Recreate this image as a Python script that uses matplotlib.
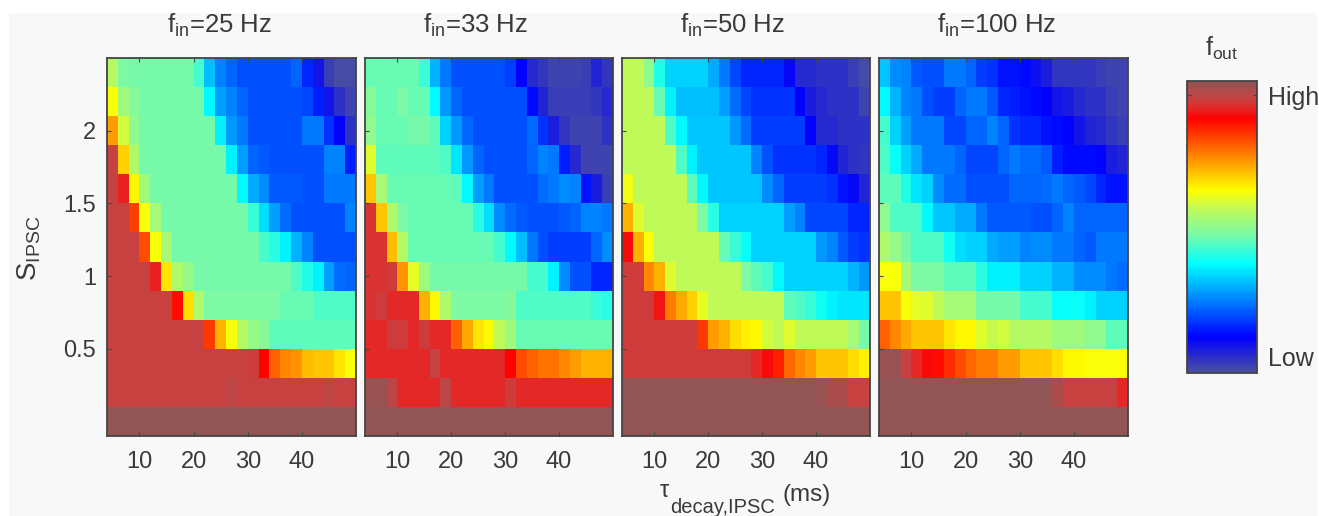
import numpy as np
import matplotlib
matplotlib.use("Agg")
import matplotlib.pyplot as plt
from matplotlib.colors import LinearSegmentedColormap
from matplotlib.cm import ScalarMappable
from matplotlib.patches import Rectangle

plt.rcParams['font.family'] = ['Liberation Sans', 'DejaVu Sans']
plt.rcParams['mathtext.fontset'] = 'custom'
plt.rcParams['mathtext.rm'] = 'Liberation Sans'
plt.rcParams['mathtext.it'] = 'Liberation Sans'
plt.rcParams['mathtext.bf'] = 'Liberation Sans'

tau_edges = list(range(4, 52, 2))
s_edges = [-0.1 + 0.2 * i for i in range(14)]
panel_titles = ['f$_{\\mathrm{in}}$=25 Hz', 'f$_{\\mathrm{in}}$=33 Hz', 'f$_{\\mathrm{in}}$=50 Hz', 'f$_{\\mathrm{in}}$=100 Hz']
xtick_vals = [10, 20, 30, 40]
ytick_vals = [0.5, 1, 1.5, 2]
ytick_labels = ['0.5', '1', '1.5', '2']

# each row lists 23 values, top row (largest S) first, in percent of the colour range
panel_25 = [
 [55,48,47,47,47,47,47,47,43,31,25,22,20,20,20,20,20,22,16,9,3,1,1],
 [62,52,49,47,47,47,47,47,47,37,28,25,22,20,20,20,20,20,19,15,9,5,2],
 [72,58,50,47,47,47,47,47,47,47,36,27,24,20,20,20,20,20,24,24,17,12,5],
 [94,67,54,47,47,47,47,47,47,47,47,36,28,22,21,20,20,20,20,20,25,25,15],
 [94,90,63,52,47,47,47,47,47,47,47,47,37,29,26,21,21,21,20,20,24,24,24],
 [94,94,81,62,53,47,47,47,47,47,47,47,47,42,34,28,23,20,20,20,20,20,25],
 [94,94,94,80,62,53,47,47,47,47,47,47,47,47,43,41,36,30,25,20,20,20,20],
 [94,94,94,94,90,65,54,51,47,47,47,47,47,47,47,47,47,44,40,36,28,23,22],
 [94,94,94,94,94,94,86,66,54,48,48,48,48,48,48,48,46,46,46,44,44,44,44],
 [94,94,94,94,94,94,94,94,94,82,70,62,55,51,49,45,45,45,45,45,45,45,45],
 [94,94,94,94,94,94,94,94,94,94,94,94,94,93,87,78,74,73,69,68,68,65,62],
 [94,94,94,94,94,94,94,94,94,94,94,95,94,94,94,94,94,94,94,94,95,94,94],
 [100]*23,
]
panel_33 = [
 [46,46,46,46,46,42,30,24,20,20,20,20,20,18,12,6,4,2,2,2,3,7,4],
 [49,46,46,48,46,46,37,27,22,20,20,20,20,20,20,13,7,3,3,3,3,4,6],
 [50,46,46,46,47,47,45,33,27,22,20,20,20,20,20,23,17,8,4,2,2,2,5],
 [59,45,45,45,45,45,45,44,35,27,22,20,20,20,20,22,25,24,15,6,2,2,2],
 [68,53,46,46,46,46,46,46,45,37,28,24,20,20,20,20,23,24,26,25,14,8,3],
 [92,68,54,48,46,46,46,46,46,46,41,34,26,23,21,20,20,20,21,22,25,25,24],
 [92,92,69,55,46,46,46,46,46,46,46,46,43,37,31,24,20,18,18,18,18,22,26],
 [92,92,93,73,60,52,47,47,47,47,47,47,47,47,47,43,43,36,26,20,20,16,16],
 [92,93,91,91,91,70,63,54,48,48,48,48,48,49,44,44,44,44,44,44,44,42,41],
 [91,91,93,93,91,93,91,91,78,71,65,63,56,52,46,46,46,46,46,46,46,46,46],
 [91,91,91,91,91,91,94,91,91,91,91,91,91,87,80,78,76,76,74,72,70,70,70],
 [99,99,95,91,91,91,91,95,91,91,91,91,91,93,91,91,91,91,91,91,91,91,91],
 [100]*23,
]
panel_50 = [
 [56,56,50,40,33,33,33,33,29,24,19,16,16,16,16,11,6,6,5,5,5,3,1],
 [56,56,56,46,36,31,31,31,31,28,23,19,17,17,17,17,12,8,6,5,5,5,2],
 [56,56,56,56,44,37,32,32,32,32,27,23,18,18,18,18,18,12,6,6,5,5,5],
 [56,56,56,56,56,44,36,32,32,32,32,32,25,20,17,17,17,17,16,11,7,5,4],
 [61,56,56,56,56,56,45,37,32,32,32,32,32,26,22,18,18,18,18,17,14,11,7],
 [70,59,56,56,56,56,56,48,41,33,33,33,33,33,33,28,25,19,19,19,19,16,16],
 [88,70,62,56,56,56,56,56,56,46,42,38,33,33,33,33,33,33,27,25,21,18,17],
 [93,93,74,70,59,56,56,56,56,56,56,48,45,43,37,33,33,33,33,33,33,30,27],
 [93,93,93,89,75,71,67,60,56,56,56,56,56,56,56,45,44,42,39,36,35,35,35],
 [93,93,93,93,93,93,93,82,72,70,66,64,63,58,56,59,56,56,56,56,56,53,47],
 [93,93,93,93,93,93,93,93,93,93,93,93,91,88,84,77,74,72,68,68,68,66,64],
 [100,100,100,100,100,100,100,100,100,100,100,100,100,100,100,100,100,100,99,97,97,94,94],
 [100]*23,
]
panel_100 = [
 [32,26,25,21,20,20,24,24,22,18,17,14,14,13,10,8,4,4,4,4,3,2,2],
 [37,30,25,24,20,18,18,22,24,24,21,16,15,14,13,12,9,8,6,5,5,3,2],
 [43,33,28,24,24,24,19,19,22,22,25,22,17,16,16,14,13,12,9,7,6,4,3],
 [44,38,33,29,24,24,24,22,19,19,19,22,24,23,23,21,15,13,13,13,12,8,7],
 [45,45,40,35,33,26,23,23,20,20,20,20,22,22,22,23,24,22,21,19,16,14,14],
 [50,44,44,44,37,32,32,29,29,24,21,21,21,21,20,20,22,25,22,22,22,22,22],
 [54,51,47,44,44,44,39,34,33,33,29,28,28,25,26,26,24,24,22,21,24,24,24],
 [62,62,53,48,48,48,45,45,45,41,36,36,36,33,33,33,30,30,26,26,26,24,23],
 [68,68,62,60,59,56,53,53,53,47,47,47,47,43,43,43,38,38,38,36,33,33,33],
 [78,74,71,68,68,68,65,63,63,59,57,58,55,55,55,55,52,52,52,50,50,45,45],
 [99,99,94,91,88,86,83,80,77,75,75,72,72,68,68,68,66,63,63,62,62,62,62],
 [100,100,100,100,100,100,100,100,100,100,100,100,100,100,100,100,97,94,94,94,94,94,91],
 [100]*23,
]
panels = [panel_25, panel_33, panel_50, panel_100]

cmap_pos = [0.0, 0.12, 0.374, 0.47, 0.56, 0.626, 0.873, 0.91, 0.94, 1.0]
cmap_rgb = [(75, 80, 160), (0, 0, 255), (0, 255, 255), (118, 250, 170), (190, 250, 90),
            (255, 255, 0), (255, 0, 0), (228, 40, 40), (200, 65, 65), (145, 85, 85)]
cmap = LinearSegmentedColormap.from_list(
    'fout', [(p, tuple(c / 255 for c in rgb)) for p, rgb in zip(cmap_pos, cmap_rgb)], N=256)

W, H = 1319, 516
fig = plt.figure(figsize=(W / 100, H / 100), dpi=100, facecolor='white')
fig.add_artist(Rectangle((9 / W, 0), (1317 - 9) / W, 1 - 13 / H, transform=fig.transFigure,
                         facecolor='#f8f8f8', edgecolor='none', zorder=-10))
TXT = '#3a3a3a'
EDGE = '#444444'

def px_axes(x0, x1, y0, y1):
    return fig.add_axes([x0 / W, 1 - y1 / H, (x1 - x0) / W, (y1 - y0) / H])

lefts = [(107, 356), (365, 613), (622, 870), (879, 1128)]
title_x = [220, 476, 733, 997]
for i, ((x0, x1), data, title, tx) in enumerate(zip(lefts, panels, panel_titles, title_x)):
    ax = px_axes(x0, x1, 58, 436)
    ax.pcolormesh(tau_edges, s_edges, np.array(data[::-1]) / 100, cmap=cmap, vmin=0, vmax=1,
                  shading='flat', rasterized=True)
    ax.set_xlim(4, 50)
    ax.set_ylim(-0.1, 2.5)
    ax.set_xticks(xtick_vals)
    ax.set_yticks(ytick_vals)
    ax.set_yticklabels(ytick_labels if i == 0 else [])
    ax.tick_params(direction='in', top=True, right=False, left=True, bottom=True,
                   length=3, width=0.8, color=EDGE, labelsize=17, labelcolor=TXT)
    ax.tick_params(axis='x', pad=11)
    ax.tick_params(axis='y', pad=8)
    for s in ax.spines.values():
        s.set_linewidth(1.3)
        s.set_color(EDGE)
    fig.text(tx / W, 1 - 33 / H, title, ha='center', va='baseline', fontsize=18.5, color=TXT)

fig.text(29 / W, 1 - 248 / H, 'S$_{\\mathrm{IPSC}}$', rotation=90, ha='center', va='center', fontsize=20, color=TXT)
fig.text(660 / W, 1 - 497 / H, '\u03c4', ha='left', va='baseline', fontsize=17, color=TXT)
fig.text(670 / W, 1 - 513 / H, 'decay,IPSC', ha='left', va='baseline', fontsize=14.5, color=TXT)
fig.text(783 / W, 1 - 501 / H, '(ms)', ha='left', va='baseline', fontsize=17.5, color=TXT)

cax = px_axes(1187, 1257, 81, 373)
cb = fig.colorbar(ScalarMappable(norm=plt.Normalize(0, 1), cmap=cmap), cax=cax)
cb.set_ticks([0.055, 0.952])
cb.set_ticklabels(['Low', 'High'])
cax.tick_params(direction='in', left=True, right=True, length=3, width=0.8, color=EDGE,
                labelsize=18, labelcolor=TXT, pad=8)
cb.outline.set_linewidth(1.3)
cb.outline.set_edgecolor(EDGE)
fig.text(1222 / W, 1 - 56 / H, 'f$_{\\mathrm{out}}$', ha='center', va='baseline', fontsize=18, color=TXT)

fig.savefig('out.png', dpi=100, facecolor=fig.get_facecolor())
